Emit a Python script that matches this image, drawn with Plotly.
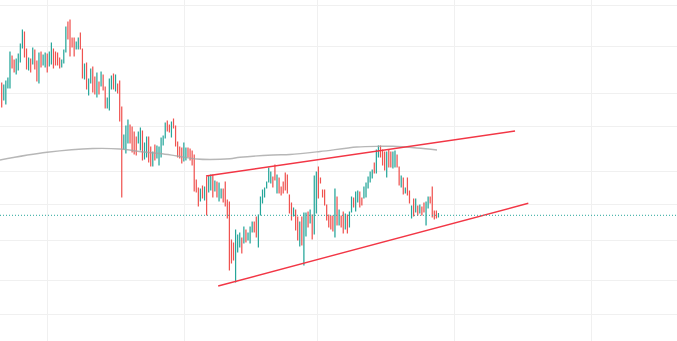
import plotly.graph_objects as go

# Daily OHLC bars (price units), oldest first
opens = [
    91.7, 90.0, 89.6, 91.2, 91.2, 94.4, 94.0, 92.6, 93.0, 93.8,
    95.2, 96.8, 95.1, 93.0, 94.1, 93.6, 95.0, 93.9, 91.7, 94.8,
    93.5, 93.3, 94.6, 93.4, 93.6, 95.1, 94.8, 94.7, 94.2, 93.3,
    93.7, 94.8, 97.8, 98.0, 96.2, 96.2, 95.1, 95.1, 96.7, 95.1,
    92.1, 93.7, 90.5, 91.7, 93.3, 92.3, 90.3, 91.8, 91.4, 92.5,
    91.3, 89.2, 89.0, 91.1, 92.6, 90.9, 91.6, 91.9, 89.3, 85.1,
    84.7, 85.7, 87.5, 87.3, 86.8, 86.3, 85.7, 85.0, 86.9, 84.1,
    84.3, 86.3, 85.3, 83.4, 85.5, 84.2, 83.5, 84.3, 85.5, 86.2,
    87.9, 87.5, 86.3, 88.1, 87.4, 85.8, 85.3, 85.2, 83.9, 84.0,
    85.2, 85.1, 84.9, 84.5, 82.0, 81.2, 79.9, 81.4, 80.0, 82.3,
    80.8, 81.0, 82.5, 80.9, 81.8, 79.9, 80.2, 81.1, 81.8, 80.0,
    79.8, 76.0, 75.7, 71.8, 74.8, 75.3, 76.2, 75.7, 77.0, 76.0,
    75.7, 76.8, 77.8, 78.3, 75.3, 78.5, 79.7, 80.3, 81.2, 81.8,
    81.7, 82.3, 83.5, 80.7, 82.2, 81.3, 81.8, 82.7, 82.5, 80.5,
    79.7, 78.4, 79.0, 78.3, 75.4, 78.3, 73.5, 76.4, 78.8, 77.7,
    78.5, 76.6, 78.7, 83.3, 82.2, 81.0, 81.0, 79.5, 78.5, 78.4,
    78.4, 76.3, 80.3, 77.5, 78.4, 78.8, 77.1, 78.5, 77.3, 78.8,
    80.2, 78.9, 79.8, 80.8, 80.2, 80.2, 80.3, 81.2, 81.8, 82.2,
    83.7, 82.7, 84.3, 85.4, 85.0, 84.8, 82.3, 85.0, 84.8, 83.2,
    83.3, 84.5, 83.3, 81.3, 82.2, 80.7, 82.2, 80.9, 78.2, 80.1,
    78.8, 79.4, 78.7, 79.3, 79.7, 77.5, 79.2, 80.3, 81.3, 78.9,
    78.9, 78.3,
]
highs = [
    91.7, 91.5, 91.9, 92.2, 94.8, 94.4, 94.0, 94.1, 94.6, 95.6,
    97.0, 96.8, 95.1, 94.2, 94.1, 95.2, 95.0, 93.9, 94.7, 94.8,
    94.5, 94.7, 94.6, 94.8, 95.7, 95.1, 94.8, 94.7, 94.2, 94.0,
    95.0, 97.3, 97.8, 98.0, 96.2, 96.2, 95.8, 96.2, 96.7, 95.1,
    93.6, 93.7, 92.1, 93.1, 93.3, 92.3, 92.7, 91.8, 92.8, 92.5,
    91.3, 90.2, 92.1, 92.4, 92.6, 92.5, 91.6, 91.9, 89.3, 86.5,
    87.4, 88.0, 87.5, 87.3, 86.8, 86.3, 86.8, 87.2, 86.9, 85.7,
    86.3, 86.3, 85.3, 84.8, 85.5, 85.4, 85.3, 86.2, 86.4, 87.7,
    87.9, 87.5, 87.8, 88.1, 87.4, 85.8, 85.3, 85.2, 85.7, 85.2,
    85.2, 85.1, 84.9, 84.5, 82.0, 81.2, 81.1, 81.4, 81.3, 82.3,
    82.4, 82.5, 82.5, 81.9, 81.8, 81.7, 81.1, 81.1, 81.8, 80.0,
    79.8, 76.0, 75.7, 77.0, 76.5, 76.7, 76.2, 77.3, 77.0, 76.7,
    77.3, 77.8, 77.8, 78.3, 78.5, 80.3, 81.0, 81.2, 81.8, 83.2,
    82.8, 82.3, 83.5, 82.5, 82.2, 81.3, 81.8, 82.7, 82.5, 80.5,
    79.7, 79.2, 79.0, 78.3, 77.8, 78.3, 78.7, 78.7, 78.8, 79.0,
    78.5, 82.4, 82.8, 83.3, 82.2, 81.0, 81.0, 79.5, 78.5, 78.4,
    78.4, 81.1, 80.3, 79.0, 78.4, 78.8, 78.6, 78.5, 78.8, 80.3,
    80.2, 80.8, 80.9, 80.8, 80.2, 81.3, 81.7, 82.3, 82.8, 83.0,
    83.7, 85.0, 85.4, 85.4, 85.0, 84.8, 84.8, 85.0, 84.8, 84.8,
    84.9, 84.5, 83.3, 82.4, 82.2, 81.2, 82.2, 80.9, 79.4, 80.1,
    80.1, 79.4, 79.5, 79.3, 79.7, 79.8, 80.3, 80.3, 81.3, 78.9,
    78.9, 78.7,
]
lows = [
    89.3, 90.0, 89.6, 91.2, 91.2, 93.2, 92.8, 92.6, 93.0, 93.8,
    95.2, 94.3, 93.1, 93.0, 92.8, 93.6, 93.1, 91.9, 91.7, 93.3,
    93.5, 93.3, 92.8, 93.4, 93.6, 93.2, 93.5, 93.5, 93.2, 93.3,
    93.7, 94.8, 96.1, 94.4, 95.3, 94.4, 95.1, 95.1, 95.1, 92.2,
    92.1, 91.1, 90.5, 91.7, 90.8, 90.6, 90.3, 90.6, 91.4, 91.0,
    89.2, 89.2, 89.0, 91.1, 91.1, 90.9, 90.7, 87.9, 80.3, 85.1,
    84.7, 85.7, 85.7, 84.8, 84.6, 84.5, 85.7, 85.0, 84.0, 84.1,
    84.3, 83.8, 83.4, 83.4, 84.0, 84.2, 83.5, 84.3, 85.5, 86.2,
    86.9, 86.8, 86.3, 87.2, 85.4, 84.3, 84.2, 83.7, 83.9, 84.0,
    84.3, 84.0, 83.5, 80.9, 80.8, 79.4, 79.9, 80.2, 80.0, 78.5,
    80.8, 81.0, 80.3, 80.9, 80.3, 79.9, 80.2, 79.8, 79.4, 78.2,
    73.0, 73.7, 74.0, 71.8, 74.8, 75.3, 74.7, 75.7, 75.8, 76.0,
    75.7, 76.8, 76.8, 76.3, 75.3, 78.5, 79.7, 80.3, 81.2, 81.8,
    81.7, 81.3, 82.0, 80.7, 80.7, 80.5, 80.7, 81.0, 80.7, 78.7,
    78.0, 78.4, 77.0, 76.0, 75.4, 75.5, 73.5, 76.4, 77.3, 77.7,
    76.1, 76.6, 78.7, 80.2, 81.7, 80.3, 79.5, 78.0, 77.3, 77.1,
    76.9, 76.3, 77.5, 77.5, 77.3, 76.7, 77.1, 76.7, 77.3, 78.8,
    79.3, 78.9, 79.8, 79.3, 79.5, 80.2, 80.3, 81.2, 81.8, 82.2,
    82.7, 82.7, 84.3, 84.3, 83.5, 83.0, 82.3, 83.3, 83.3, 83.2,
    83.3, 83.3, 81.5, 81.3, 80.6, 80.7, 80.5, 79.7, 78.2, 78.4,
    78.8, 78.5, 78.7, 78.5, 78.8, 77.5, 79.2, 79.7, 78.3, 78.1,
    78.2, 78.3,
]
closes = [
    89.3, 91.5, 91.9, 92.2, 94.8, 93.2, 92.8, 94.1, 94.6, 95.6,
    97.0, 94.3, 93.1, 94.2, 92.8, 95.2, 93.1, 91.9, 94.7, 93.3,
    94.5, 94.7, 92.8, 94.8, 95.7, 93.2, 93.5, 93.5, 93.2, 94.0,
    95.0, 97.3, 96.1, 94.4, 95.3, 94.4, 95.8, 96.2, 95.1, 92.2,
    93.6, 91.1, 92.1, 93.1, 90.8, 90.6, 92.7, 90.6, 92.8, 91.0,
    89.2, 90.2, 92.1, 92.4, 91.1, 92.5, 90.7, 87.9, 80.3, 86.5,
    87.4, 88.0, 85.7, 84.8, 84.6, 84.5, 86.8, 87.2, 84.0, 85.7,
    86.3, 83.8, 83.4, 84.8, 84.0, 85.4, 85.3, 86.2, 86.4, 87.7,
    86.9, 86.8, 87.8, 87.2, 85.4, 84.3, 84.2, 83.7, 85.7, 85.2,
    84.3, 84.0, 83.5, 80.9, 80.8, 79.4, 81.1, 80.2, 81.3, 78.5,
    82.4, 82.5, 80.3, 81.9, 80.3, 81.7, 81.1, 79.8, 79.4, 78.2,
    73.0, 73.7, 74.0, 77.0, 76.5, 76.7, 74.7, 77.3, 75.8, 76.7,
    77.3, 77.8, 76.8, 76.3, 78.5, 80.3, 81.0, 81.2, 81.8, 83.2,
    82.8, 81.3, 82.0, 82.5, 80.7, 80.5, 80.7, 81.0, 80.7, 78.7,
    78.0, 79.2, 77.0, 76.0, 77.8, 75.5, 78.7, 78.7, 77.3, 79.0,
    76.1, 82.4, 82.8, 80.2, 81.7, 80.3, 79.5, 78.0, 77.3, 77.1,
    76.9, 81.1, 77.5, 79.0, 77.3, 76.7, 78.6, 76.7, 78.8, 80.3,
    79.3, 80.8, 80.9, 79.3, 79.5, 81.3, 81.7, 82.3, 82.8, 83.0,
    82.7, 85.0, 85.4, 84.3, 83.5, 83.0, 84.8, 83.3, 83.3, 84.8,
    84.9, 83.3, 81.5, 82.4, 80.6, 81.2, 80.5, 79.7, 79.4, 78.4,
    80.1, 78.5, 79.5, 78.5, 78.8, 79.8, 80.3, 79.7, 78.3, 78.1,
    78.2, 78.47,
]
bars = list(range(len(opens)))

# Long moving average, sampled along the bar axis
ma_bar = [-1, 21.9, 44.1, 57.1, 68.3, 76.5, 84.7, 94.3, 100.6, 110.3,
          115.1, 131.1, 139.3, 153.8, 171.6, 182.8, 189.0, 200.6, 210.3]
ma_val = [84.0, 84.77, 85.15, 85.1, 84.8, 84.65, 84.4, 84.1, 84.05, 84.13,
          84.27, 84.5, 84.55, 84.85, 85.3, 85.37, 85.37, 85.2, 85.0]

# Rising wedge trend lines (bar, price) end points
upper_bar = [98.7, 248.0]
upper_price = [82.4, 86.9]
lower_bar = [104.6, 254.4]
lower_price = [71.4, 79.67]

# Grid positions
time_grid = [21.9, 88.3, 152.6, 218.8, 285.0]
price_grid = [99.47, 95.37, 90.67, 87.37, 82.87, 79.57, 76.0, 71.97, 68.6]

UP = "#26a69a"
DOWN = "#ef5350"
TREND = "#f23645"

fig = go.Figure()

fig.add_trace(go.Scatter(
    x=ma_bar, y=ma_val, mode="lines",
    line=dict(color="rgba(165,165,165,0.8)", width=1.4, shape="spline"),
    hoverinfo="skip", showlegend=False,
))

fig.add_trace(go.Candlestick(
    x=bars, open=opens, high=highs, low=lows, close=closes,
    increasing=dict(line=dict(color=UP, width=1.1), fillcolor=UP),
    decreasing=dict(line=dict(color=DOWN, width=1.1), fillcolor=DOWN),
    whiskerwidth=0, showlegend=False,
))

for bx, py in ((upper_bar, upper_price), (lower_bar, lower_price)):
    fig.add_trace(go.Scatter(
        x=bx, y=py, mode="lines",
        line=dict(color=TREND, width=1.4),
        hoverinfo="skip", showlegend=False,
    ))

# Last price marker line
fig.add_shape(
    type="line", xref="paper", x0=0, x1=1, yref="y",
    y0=closes[-1], y1=closes[-1],
    line=dict(color=UP, width=1, dash="1px,2px"),
)

fig.update_layout(
    width=677, height=341,
    margin=dict(l=0, r=0, t=0, b=0),
    paper_bgcolor="white", plot_bgcolor="white",
    boxgap=0.92,
    xaxis=dict(
        range=[-0.82, 326.24], tickvals=time_grid, showticklabels=False,
        showgrid=True, gridcolor="#f0f0f0", gridwidth=1,
        zeroline=False, showline=False, rangeslider=dict(visible=False),
    ),
    yaxis=dict(
        range=[65.9, 100], tickvals=price_grid, showticklabels=False,
        showgrid=True, gridcolor="#f0f0f0", gridwidth=1,
        zeroline=False, showline=False,
    ),
)

fig.write_html("out.html")
